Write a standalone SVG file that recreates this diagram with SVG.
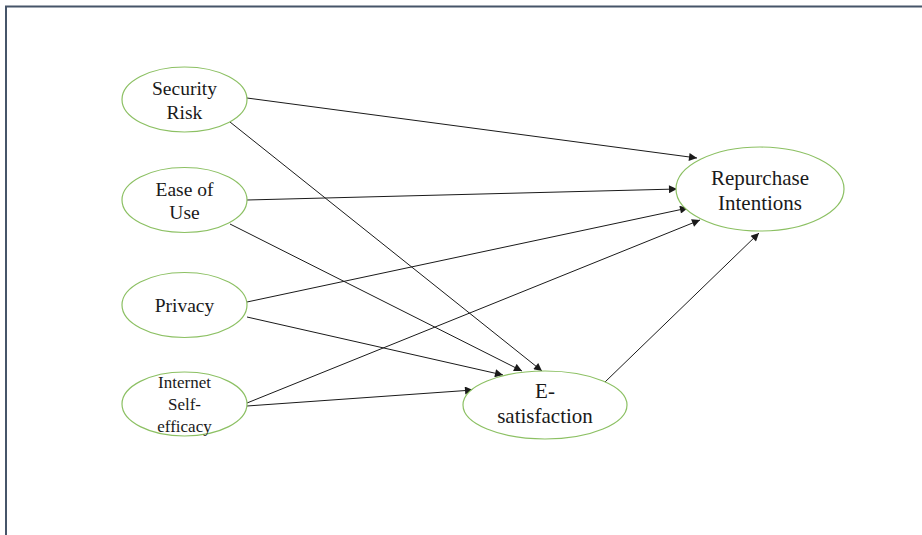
<svg xmlns="http://www.w3.org/2000/svg" width="922" height="535" viewBox="0 0 922 535">
<style>
.node{fill:#fff;stroke:#8cc063;stroke-width:1.2}
.t{font-family:"Liberation Serif","Times New Roman",serif;fill:#1a1a1a;text-anchor:middle}
.e{stroke:#1a1a1a;stroke-width:1;fill:none;marker-end:url(#ah)}
</style>
<defs>
<marker id="ah" viewBox="0 0 10 10" refX="10" refY="5" markerWidth="10" markerHeight="8" markerUnits="userSpaceOnUse" orient="auto">
<path d="M0,0 L10,5 L0,10 z" fill="#1a1a1a"/>
</marker>
</defs>
<rect width="922" height="535" fill="#fff"/>
<path d="M6,535 V6.5 H922" fill="none" stroke="#465569" stroke-width="2"/>
<g id="connectors">
<line class="e" x1="247" y1="98" x2="697" y2="158"/>
<line class="e" x1="230" y1="122" x2="542" y2="371"/>
<line class="e" x1="247" y1="200" x2="677" y2="189"/>
<line class="e" x1="230" y1="224" x2="522" y2="371"/>
<line class="e" x1="247" y1="302" x2="688" y2="208"/>
<line class="e" x1="247" y1="317" x2="503" y2="375"/>
<line class="e" x1="247" y1="403" x2="700" y2="220"/>
<line class="e" x1="247" y1="406" x2="473" y2="390"/>
<line class="e" x1="605" y1="382" x2="759" y2="233"/>
</g>
<g id="security-risk">
<ellipse class="node" cx="184.5" cy="99.5" rx="62.5" ry="32.5"/>
<text class="t" x="184.5" y="95" font-size="19.5">Security</text>
<text class="t" x="184.5" y="119" font-size="19.5">Risk</text>
</g>
<g id="ease-of-use">
<ellipse class="node" cx="184.5" cy="200" rx="62.5" ry="32.5"/>
<text class="t" x="184.5" y="196" font-size="19.5">Ease of</text>
<text class="t" x="184.5" y="219" font-size="19.5">Use</text>
</g>
<g id="privacy">
<ellipse class="node" cx="184.5" cy="305" rx="62.5" ry="32.5"/>
<text class="t" x="184.5" y="312" font-size="19.5">Privacy</text>
</g>
<g id="internet-self-efficacy">
<ellipse class="node" cx="184.5" cy="404" rx="62.5" ry="32"/>
<text class="t" x="184.5" y="388" font-size="17">Internet</text>
<text class="t" x="184.5" y="410" font-size="17">Self-</text>
<text class="t" x="184.5" y="432" font-size="17">efficacy</text>
</g>
<g id="repurchase-intentions">
<ellipse class="node" cx="760" cy="189" rx="84" ry="42"/>
<text class="t" x="760" y="185" font-size="21">Repurchase</text>
<text class="t" x="760" y="210" font-size="21">Intentions</text>
</g>
<g id="e-satisfaction">
<ellipse class="node" cx="545" cy="405" rx="82" ry="34"/>
<text class="t" x="545" y="398" font-size="21">E-</text>
<text class="t" x="545" y="423" font-size="21">satisfaction</text>
</g>
</svg>
